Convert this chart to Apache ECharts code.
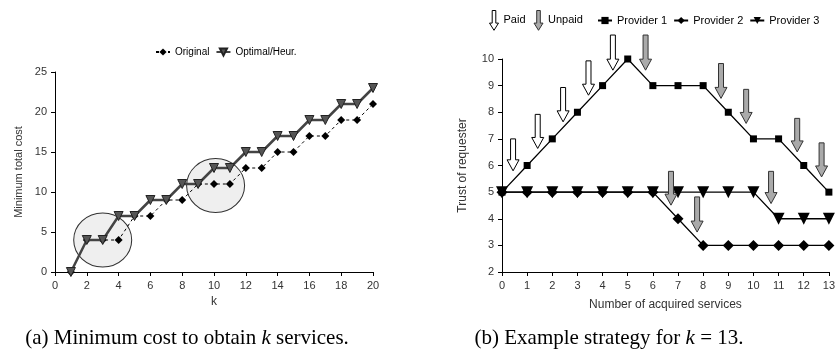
<!DOCTYPE html>
<html>
<head>
<meta charset="utf-8">
<script src="https://cdn.jsdelivr.net/npm/echarts@6/dist/echarts.min.js"></script>
<style>
  html, body { margin: 0; padding: 0; background: #fff; }
  #main { width: 838px; height: 356px; }
</style>
</head>
<body>
<div id="main"></div>
<script>
// (a) minimum cost per k
var kValues = [1, 2, 3, 4, 5, 6, 7, 8, 9, 10, 11, 12, 13, 14, 15, 16, 17, 18, 19, 20];
var originalCost = [0, 4, 4, 4, 7, 7, 9, 9, 11, 11, 11, 13, 13, 15, 15, 17, 17, 19, 19, 21];
var optimalCost = [0, 4, 4, 7, 7, 9, 9, 11, 11, 13, 13, 15, 15, 17, 17, 19, 19, 21, 21, 23];
var circleCenters = [[3, 4], [10.1, 10.8]];

// (b) trust per number of acquired services
var services = [0, 1, 2, 3, 4, 5, 6, 7, 8, 9, 10, 11, 12, 13];
var provider1 = [5, 6, 7, 8, 9, 10, 9, 9, 9, 8, 7, 7, 6, 5];
var provider2 = [5, 5, 5, 5, 5, 5, 5, 4, 3, 3, 3, 3, 3, 3];
var provider3 = [5, 5, 5, 5, 5, 5, 5, 5, 5, 5, 5, 4, 4, 4];
// arrows: [x, top, tip]
var paidArrows = [[0.44, 7.0, 5.8], [1.42, 7.92, 6.64], [2.43, 8.93, 7.64], [3.44, 9.93, 8.64], [4.41, 10.9, 9.58]];
var unpaidArrows = [[5.71, 10.9, 9.58], [6.72, 5.78, 4.51], [7.76, 4.82, 3.5], [8.71, 9.83, 8.52],
                    [9.71, 8.86, 7.58], [10.7, 5.78, 4.57], [11.74, 7.77, 6.51], [12.71, 6.85, 5.57]];

var arrowIcon = 'path://M3,0 L7,0 L7,14 L10,14 L5,22 L0,14 L3,14 Z';

function zip(xs, ys) {
    return xs.map(function (x, i) { return [x, ys[i]]; });
}

function renderArrow(params, api) {
    var top = api.coord([api.value(0), api.value(1)]);
    var tip = api.coord([api.value(0), api.value(2)]);
    var x = top[0], hb = tip[1] - 11;
    return {
        type: 'polygon',
        shape: {
            points: [[x - 2.5, top[1]], [x + 2.5, top[1]], [x + 2.5, hb], [x + 6, hb],
                     [x, tip[1]], [x - 6, hb], [x - 2.5, hb]]
        },
        style: {
            fill: api.visual('color'),
            stroke: params.seriesName === 'Paid' ? '#000' : '#333',
            lineWidth: 1
        }
    };
}

var axisText = { color: '#333', fontSize: 11, fontFamily: 'Liberation Sans' };
var axisLine = { show: true, lineStyle: { color: '#000', width: 1 } };
var axisTick = { show: true, length: 4, lineStyle: { color: '#000' } };
var captionStyle = {
    color: '#000', fontSize: 21, fontWeight: 'normal', fontFamily: 'Liberation Serif',
    rich: { i: { fontStyle: 'italic', fontSize: 21, fontFamily: 'Liberation Serif', color: '#000' } }
};

var myChart = echarts.init(document.getElementById('main'));
var option = {
    animation: false,
    backgroundColor: '#fff',
    title: [{
        text: '(a) Minimum cost to obtain {i|k} services.',
        left: 182, top: 323, textAlign: 'center',
        textStyle: captionStyle
    }, {
        text: '(b) Example strategy for {i|k} = 13.',
        left: 604, top: 323, textAlign: 'center',
        textStyle: captionStyle
    }],
    legend: [{
        data: ['Original', 'Optimal/Heur.'],
        left: 150, top: 42,
        itemWidth: 14, itemHeight: 9, itemGap: 6,
        textStyle: { color: '#000', fontSize: 10, fontFamily: 'Liberation Sans' }
    }, {
        data: [
            { name: 'Paid', icon: arrowIcon, itemStyle: { color: '#fff', borderColor: '#000', borderWidth: 1 } },
            { name: 'Unpaid', icon: arrowIcon, itemStyle: { color: '#aaa', borderColor: '#333', borderWidth: 1 } }
        ],
        left: 484, top: 5,
        itemWidth: 9, itemHeight: 22, itemGap: 8,
        textStyle: { color: '#000', fontSize: 11, fontFamily: 'Liberation Sans', padding: [0, 0, 6, 0] }
    }, {
        data: ['Provider 1', 'Provider 2', 'Provider 3'],
        left: 592, top: 10,
        itemWidth: 14, itemHeight: 9, itemGap: 6,
        textStyle: { color: '#000', fontSize: 11, fontFamily: 'Liberation Sans' }
    }],
    grid: [
        { left: 55, right: 465, top: 72, bottom: 84 },
        { left: 502, right: 3, top: 59, bottom: 84 }
    ],
    xAxis: [{
        gridIndex: 0, type: 'value', min: 0, max: 20, interval: 2,
        name: 'k', nameLocation: 'middle', nameGap: 24,
        nameTextStyle: { color: '#333', fontSize: 12, fontFamily: 'Liberation Sans' },
        axisLine: axisLine, axisTick: axisTick, axisLabel: axisText, splitLine: { show: false }
    }, {
        gridIndex: 1, type: 'value', min: 0, max: 13, interval: 1,
        name: 'Number of acquired services', nameLocation: 'middle', nameGap: 27,
        nameTextStyle: { color: '#333', fontSize: 12, fontFamily: 'Liberation Sans' },
        axisLine: axisLine, axisTick: axisTick, axisLabel: axisText, splitLine: { show: false }
    }],
    yAxis: [{
        gridIndex: 0, type: 'value', min: 0, max: 25, interval: 5,
        name: 'Minimum total cost', nameLocation: 'middle', nameGap: 31,
        nameTextStyle: { color: '#333', fontSize: 11, fontFamily: 'Liberation Sans' },
        axisLine: axisLine, axisTick: axisTick, axisLabel: axisText, splitLine: { show: false }
    }, {
        gridIndex: 1, type: 'value', min: 2, max: 10, interval: 1,
        name: 'Trust of requester', nameLocation: 'middle', nameGap: 33,
        nameTextStyle: { color: '#333', fontSize: 12, fontFamily: 'Liberation Sans' },
        axisLine: axisLine, axisTick: axisTick, axisLabel: axisText, splitLine: { show: false }
    }],
    series: [{
        name: 'highlight', type: 'scatter', xAxisIndex: 0, yAxisIndex: 0,
        data: circleCenters, symbol: 'circle', symbolSize: [58, 54], z: 1,
        itemStyle: { color: '#ebebeb', borderColor: '#000', borderWidth: 1 },
        silent: true
    }, {
        name: 'Original', type: 'line', xAxisIndex: 0, yAxisIndex: 0,
        data: zip(kValues, originalCost), symbol: 'diamond', symbolSize: 8, z: 3,
        lineStyle: { color: '#000', width: 1, type: [3, 3] },
        itemStyle: { color: '#000' }
    }, {
        name: 'Optimal/Heur.', type: 'line', xAxisIndex: 0, yAxisIndex: 0,
        data: zip(kValues, optimalCost), symbol: 'triangle', symbolRotate: 180, symbolSize: 9, z: 4,
        lineStyle: { color: '#444', width: 2.5 },
        itemStyle: { color: '#555', borderColor: '#222', borderWidth: 1 }
    }, {
        name: 'Provider 1', type: 'line', xAxisIndex: 1, yAxisIndex: 1,
        data: zip(services, provider1), symbol: 'rect', symbolSize: 7, z: 3,
        lineStyle: { color: '#000', width: 1.3 },
        itemStyle: { color: '#000' }
    }, {
        name: 'Provider 2', type: 'line', xAxisIndex: 1, yAxisIndex: 1,
        data: zip(services, provider2), symbol: 'diamond', symbolSize: 11, z: 3,
        lineStyle: { color: '#000', width: 1.3 },
        itemStyle: { color: '#000' }
    }, {
        name: 'Provider 3', type: 'line', xAxisIndex: 1, yAxisIndex: 1,
        data: zip(services, provider3), symbol: 'triangle', symbolRotate: 180, symbolSize: 12, z: 4,
        lineStyle: { color: '#000', width: 1.3 },
        itemStyle: { color: '#000' }
    }, {
        name: 'Paid', type: 'custom', xAxisIndex: 1, yAxisIndex: 1,
        data: paidArrows, encode: { x: 0, y: [1, 2] }, renderItem: renderArrow, z: 5,
        itemStyle: { color: '#fff' }
    }, {
        name: 'Unpaid', type: 'custom', xAxisIndex: 1, yAxisIndex: 1,
        data: unpaidArrows, encode: { x: 0, y: [1, 2] }, renderItem: renderArrow, z: 5,
        itemStyle: { color: '#aaa' }
    }]
};
myChart.setOption(option);
</script>
</body>
</html>
